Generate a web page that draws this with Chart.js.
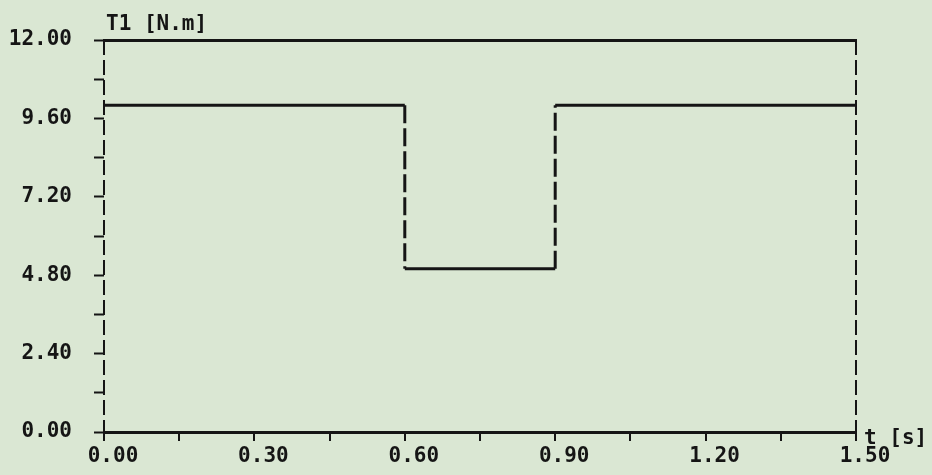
<!DOCTYPE html>
<html>
<head>
<meta charset="utf-8">
<script src="https://cdn.jsdelivr.net/npm/chart.js@4/dist/chart.umd.min.js"></script>
<style>
  html, body { margin: 0; padding: 0; background: #dae7d3; }
  #wrap { width: 932px; height: 475px; }
</style>
</head>
<body>
<div id="wrap"><canvas id="chartT1"></canvas></div>
<script>
// step of the load torque T1 over time
const tempos = [0, 0.6, 0.6, 0.9, 0.9, 1.5];
const torque = [10, 10, 5, 5, 10, 10];

const eixoX = { min: 0, max: 1.5, passo: 0.15, rotuloCada: 0.3 };
const eixoY = { min: 0, max: 12, passo: 1.2, rotuloCada: 2.4 };

const tituloY = "T1 [N.m]";
const tituloX = "t [s]";

const FONTE_FAM = "'DejaVu Sans Mono', monospace";
const PRETO = "#151515";

/* ===========================
   TITULOS DOS EIXOS
=========================== */
const titulosEixos = {
    id: "titulosEixos",
    afterDraw(chart) {
        const { ctx, chartArea } = chart;
        ctx.save();
        ctx.font = "bold 21px " + FONTE_FAM;
        ctx.fillStyle = PRETO;
        ctx.textBaseline = "alphabetic";
        ctx.textAlign = "left";
        ctx.fillText(tituloY, chartArea.left + 2, chartArea.top - 10);
        ctx.fillText(tituloX, chartArea.right + 8, chartArea.bottom + 12);
        ctx.restore();
    }
};

function rotulo(valor, cada) {
    const k = Math.round(valor / cada * 2);
    return k % 2 === 0 ? valor.toFixed(2) : "";
}

// linhas verticais do quadro (t = 0 e t = 1.5) tracejadas
function corGradeX(c) {
    if (c.type !== "tick") return "transparent";
    const v = c.tick.value;
    return (Math.abs(v - eixoX.min) < 1e-9 || Math.abs(v - eixoX.max) < 1e-9) ? PRETO : "transparent";
}

const pontos = tempos.map((t, i) => ({ x: t, y: torque[i] }));

new Chart(document.getElementById("chartT1"), {
    type: "line",
    data: {
        datasets: [{
            data: pontos,
            borderColor: PRETO,
            borderWidth: 3,
            // traço "cheio" (sem vão) so para o Chart.js nao usar o caminho rapido
            borderDash: [1000, 0],
            pointRadius: 0,
            fill: false,
            tension: 0,
            segment: {
                borderDash: c => tempos[c.p0DataIndex] === tempos[c.p1DataIndex] ? [18, 5] : undefined
            }
        }]
    },
    options: {
        responsive: true,
        maintainAspectRatio: false,
        animation: false,
        layout: { padding: { left: 0, right: 76, top: 40, bottom: 0 } },
        plugins: { legend: { display: false }, tooltip: { enabled: false } },
        scales: {
            x: {
                type: "linear",
                min: eixoX.min,
                max: eixoX.max,
                afterFit: s => { s.height = 43; },
                border: { color: PRETO, width: 3, dash: [15, 5] },
                grid: {
                    drawOnChartArea: true,
                    drawTicks: true,
                    tickLength: 9,
                    tickWidth: 2,
                    tickColor: PRETO,
                    lineWidth: 2,
                    color: corGradeX
                },
                ticks: {
                    stepSize: eixoX.passo,
                    autoSkip: false,
                    maxRotation: 0,
                    padding: 3,
                    labelOffset: 9,
                    color: PRETO,
                    font: { family: FONTE_FAM, size: 21, weight: "bold" },
                    callback: v => rotulo(v, eixoX.rotuloCada)
                }
            },
            xTopo: {
                type: "linear",
                position: "top",
                min: eixoX.min,
                max: eixoX.max,
                afterFit: s => { s.height = 0; },
                border: { color: PRETO, width: 3 },
                grid: { display: true, drawOnChartArea: false, drawTicks: false },
                ticks: { display: false }
            },
            y: {
                type: "linear",
                min: eixoY.min,
                max: eixoY.max,
                afterFit: s => { s.width = 104; },
                border: { display: false },
                grid: { drawOnChartArea: false, drawTicks: true, tickLength: 10, tickWidth: 2, color: PRETO },
                ticks: {
                    stepSize: eixoY.passo,
                    autoSkip: false,
                    padding: 22,
                    color: PRETO,
                    font: { family: FONTE_FAM, size: 21, weight: "bold" },
                    callback: v => rotulo(v, eixoY.rotuloCada)
                }
            }
        }
    },
    plugins: [titulosEixos]
});
</script>
</body>
</html>
